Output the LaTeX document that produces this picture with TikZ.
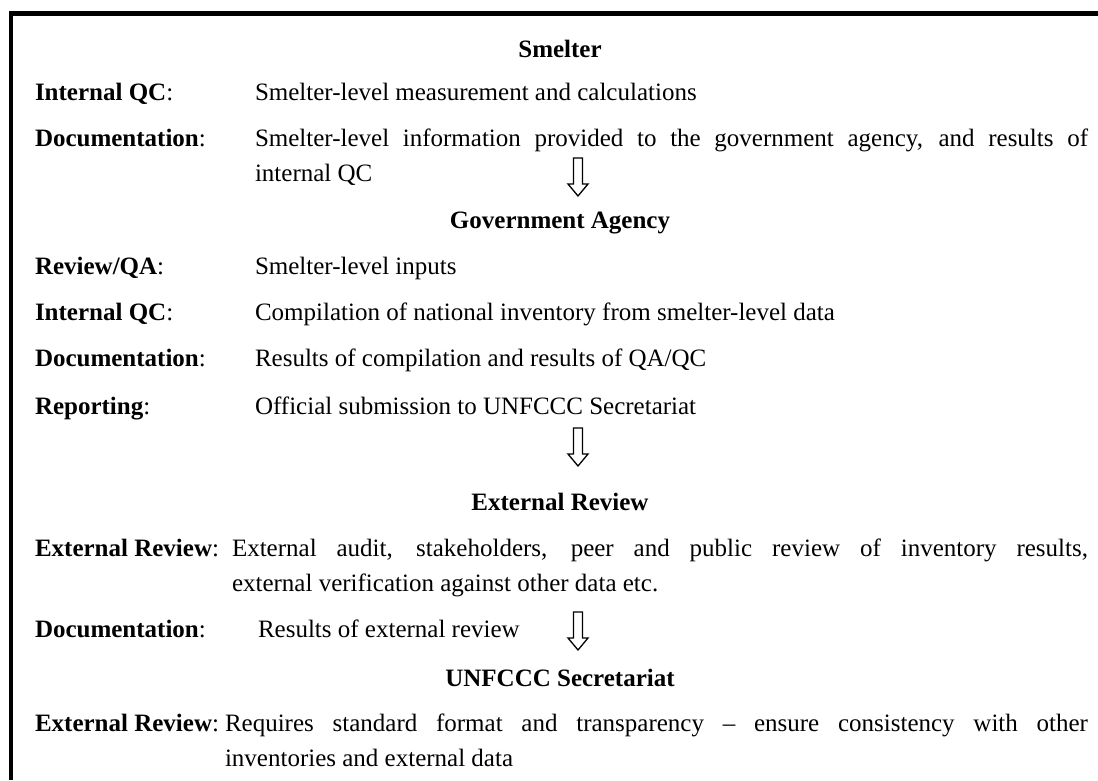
\documentclass[tikz,border=0pt]{standalone}
\usepackage{fontspec}
\setmainfont{Liberation Serif}
\hyphenpenalty=10000
\exhyphenpenalty=10000
\begin{document}
\begin{tikzpicture}[x=1pt,y=-1pt,
  every node/.style={inner sep=0pt, outer sep=0pt, font=\fontsize{25}{35}\selectfont},
  head/.style={font=\fontsize{25}{35}\selectfont\bfseries, anchor=base},
  lbl/.style={anchor=base west},
  body/.style={anchor=base west, text width=#1, align=justify},
  frame/.style={line width=4.5pt, line join=miter},
  blockarrow/.pic={\draw[line width=1.3pt, line join=miter]
      (-4.5,0) -- (4.5,0) -- (4.5,26) -- (10,26) -- (0,38) -- (-10,26) -- (-4.5,26) -- cycle;}
]
\useasboundingbox (0,0) rectangle (1098,780);

% open frame: top and left edges
\draw[frame] (1098,13.5) -- (10.8,13.5) -- (10.8,780);

% ---- Smelter ----
\node[head] (h1) at (560,57) {Smelter};
\node[lbl] (l11) at (35,100) {\textbf{Internal QC}:};
\node[body=833] (t11) at (255,100) {Smelter-level measurement and calculations};
\node[lbl] (l12) at (35,146) {\textbf{Documentation}:};
\node[body=833] (t12) at (255,146) {Smelter-level information provided to the government agency, and results of\linebreak internal QC};
\pic (a1) at (578,158) {blockarrow};

% ---- Government Agency ----
\node[head] (h2) at (560,228) {Government Agency};
\node[lbl] (l21) at (35,274) {\textbf{Review/QA}:};
\node[body=833] (t21) at (255,274) {Smelter-level inputs};
\node[lbl] (l22) at (35,320) {\textbf{Internal QC}:};
\node[body=833] (t22) at (255,320) {Compilation of national inventory from smelter-level data};
\node[lbl] (l23) at (35,366) {\textbf{Documentation}:};
\node[body=833] (t23) at (255,366) {Results of compilation and results of QA/QC};
\node[lbl] (l24) at (35,414) {\textbf{Reporting}:};
\node[body=833] (t24) at (255,414) {Official submission to UNFCCC Secretariat};
\pic (a2) at (578,428) {blockarrow};

% ---- External Review ----
\node[head] (h3) at (560,510) {External Review};
\node[lbl] (l31) at (35,556) {\textbf{External Review}:};
\node[body=856] (t31) at (232,556) {External audit, stakeholders, peer and public review of inventory results,\linebreak external verification against other data etc.};
\node[lbl] (l32) at (35,637) {\textbf{Documentation}:};
\node[body=830] (t32) at (258,637) {Results of external review};
\pic (a3) at (578,612) {blockarrow};

% ---- UNFCCC Secretariat ----
\node[head] (h4) at (560,686) {UNFCCC Secretariat};
\node[lbl] (l41) at (35,731) {\textbf{External Review}:};
\node[body=863] (t41) at (225,731) {Requires standard format and transparency – ensure consistency with other\linebreak inventories and external data};
\end{tikzpicture}
\end{document}
